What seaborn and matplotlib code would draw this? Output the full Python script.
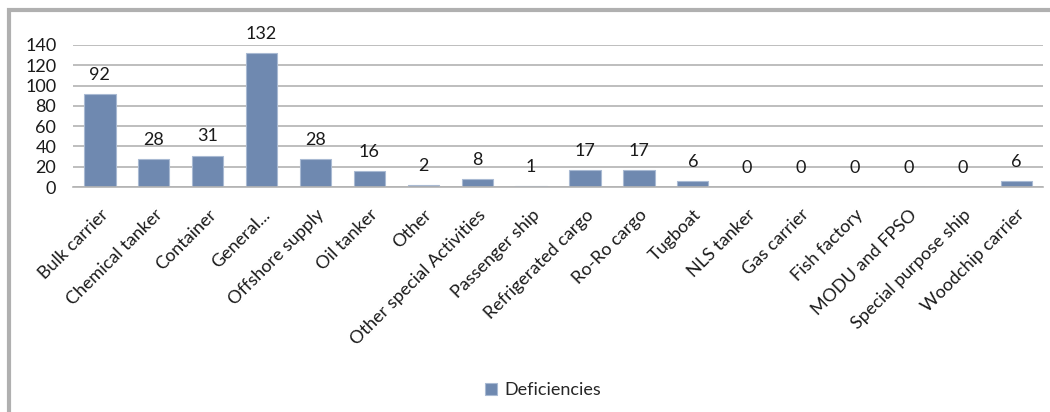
import matplotlib
matplotlib.use('Agg')
import matplotlib.pyplot as plt
import seaborn as sns
import pandas as pd
import numpy as np
from matplotlib.patches import Rectangle

# ship types and number of deficiencies
shipTypes = ['Bulk carrier', 'Chemical tanker', 'Container', 'General...',
             'Offshore supply', 'Oil tanker', 'Other', 'Other special Activities',
             'Passenger ship', 'Refrigerated cargo', 'Ro-Ro cargo', 'Tugboat',
             'NLS tanker', 'Gas carrier', 'Fish factory', 'MODU and FPSO',
             'Special purpose ship', 'Woodchip carrier']
deficiencies = [92, 28, 31, 132, 28, 16, 2, 8, 1, 17, 17, 6, 0, 0, 0, 0, 0, 6]
yTicks = [0, 20, 40, 60, 80, 100, 120, 140]

barColor = '#6F89B0'
gridColor = '#B3B3B3'
textColor = '#1a1a1a'
fs = 13

df = pd.DataFrame({'type': shipTypes, 'Deficiencies': deficiencies})

sns.set_style('white')
plt.rcParams['font.family'] = ['Lato', 'DejaVu Sans']

fig = plt.figure(figsize=(10.5, 4.12), dpi=100)
ax = fig.add_axes([0.0695, 0.546, 0.924, 0.345])

# outer chart frame like the excel chart area
fig.patches.append(Rectangle((0.009, -0.2), 1.2, 1.175, transform=fig.transFigure,
                             fill=False, edgecolor='#B0B0B0', linewidth=3))

sns.barplot(data=df, x='type', y='Deficiencies', color=barColor, width=0.58,
            saturation=1, ax=ax, label='Deficiencies', linewidth=0.8,
            edgecolor='#A9BAD3')

ax.set_ylim(0, 140)
ax.set_xlim(-0.5, len(shipTypes) - 0.5)
ax.set_yticks(yTicks)
ax.set_yticklabels([str(t) for t in yTicks], fontsize=fs, color=textColor)
ax.yaxis.grid(True, color=gridColor, linewidth=1.2)
ax.set_axisbelow(True)
ax.tick_params(axis='y', length=0, pad=12)

# category labels, tick marks between categories
ax.set_xticks(range(len(shipTypes)))
ax.set_xticklabels(shipTypes, rotation=45, ha='right', rotation_mode='anchor',
                   fontsize=fs, color=textColor)
ax.tick_params(axis='x', which='major', length=0, pad=14)
ax.set_xticks(np.arange(-0.5, len(shipTypes)), minor=True)
ax.tick_params(axis='x', which='minor', length=5, color=gridColor, width=1.2)

for s in ['top', 'right', 'left']:
    ax.spines[s].set_visible(False)
ax.spines['bottom'].set_color(gridColor)
ax.spines['bottom'].set_linewidth(1.2)
ax.set_xlabel('')
ax.set_ylabel('')

# value labels
for i, v in enumerate(deficiencies):
    ax.annotate(str(v), (i, v), xytext=(0, 8), textcoords='offset points',
                ha='center', va='bottom', fontsize=fs, color=textColor,
                annotation_clip=False)

ax.legend(loc='center', bbox_to_anchor=(0.517, 0.053), bbox_transform=fig.transFigure,
          frameon=False, fontsize=fs, handlelength=0.7, handleheight=0.7,
          handletextpad=0.4)

fig.savefig('out.png', dpi=100)
